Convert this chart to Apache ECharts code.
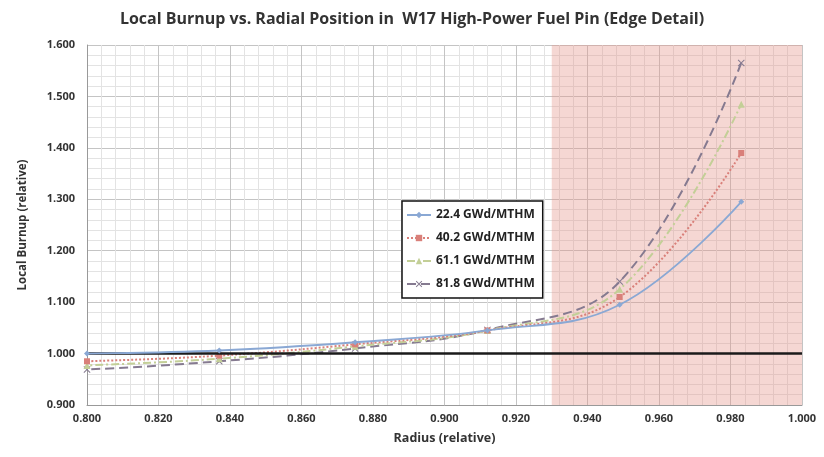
<!DOCTYPE html>
<html><head><meta charset="utf-8">
<script src="https://cdn.jsdelivr.net/npm/echarts@6/dist/echarts.min.js"></script>
<style>html,body{margin:0;padding:0;background:#fff}#c{width:824px;height:457px}</style>
</head><body><div id="c"></div>
<script>
const radius = [0.762, 0.800, 0.837, 0.875, 0.912, 0.949, 0.983];
const seriesNames = ['22.4 GWd/MTHM', '40.2 GWd/MTHM', '61.1 GWd/MTHM', '81.8 GWd/MTHM'];
const burnup22 = [0.998, 1.000, 1.006, 1.022, 1.045, 1.095, 1.295];
const burnup40 = [0.978, 0.985, 0.996, 1.018, 1.045, 1.110, 1.390];
const burnup61 = [0.968, 0.977, 0.990, 1.014, 1.045, 1.125, 1.485];
const burnup81 = [0.960, 0.969, 0.985, 1.010, 1.046, 1.140, 1.565];
const xTicks = {min: 0.8, max: 1.0, step: 0.02};
const yTicks = {min: 0.9, max: 1.6, step: 0.1};
const referenceLevel = 1.0;
const edgeZone = [0.930, 1.000];

const pairs = v => radius.map((r, i) => [r, v[i]]);
const xMark = 'path://M0,1 L1,0 L5,4 L9,0 L10,1 L6,5 L10,9 L9,10 L5,6 L1,10 L0,9 L4,5 Z';
const font = '"Open Sans", "Liberation Sans", sans-serif';

const chart = echarts.init(document.getElementById('c'));
chart.setOption({
  animation: false,
  textStyle: {fontFamily: font},
  title: {
    text: 'Local Burnup vs. Radial Position in  W17 High-Power Fuel Pin (Edge Detail)',
    left: 'center', top: 6,
    textStyle: {fontSize: 16, fontWeight: 'bold', color: '#333', fontFamily: font}
  },
  grid: {left: 87, right: 22, top: 45, bottom: 52},
  legend: {
    orient: 'vertical', left: 402, top: 201,
    backgroundColor: '#fff', borderColor: '#111', borderWidth: 1.5,
    padding: [8, 8, 8, 4], itemGap: 11, itemWidth: 24, itemHeight: 8,
    textStyle: {fontSize: 12, fontWeight: 'bold', color: '#222', fontFamily: font},
    data: seriesNames
  },
  xAxis: {
    type: 'value', min: xTicks.min, max: xTicks.max, interval: xTicks.step,
    name: 'Radius (relative)', nameLocation: 'middle', nameGap: 27,
    nameTextStyle: {fontSize: 12.5, fontWeight: 'bold', color: '#333'},
    axisLine: {lineStyle: {color: '#999'}},
    axisTick: {show: false},
    axisLabel: {fontSize: 11, fontWeight: 'bold', color: '#333', formatter: v => v.toFixed(3)},
    splitLine: {show: true, lineStyle: {color: '#c4c4c4', width: 1}},
    minorTick: {show: false, splitNumber: 5},
    minorSplitLine: {show: true, lineStyle: {color: '#e3e3e3', width: 1}}
  },
  yAxis: {
    type: 'value', min: yTicks.min, max: yTicks.max, interval: yTicks.step,
    name: 'Local Burnup (relative)', nameLocation: 'middle', nameGap: 58,
    nameTextStyle: {fontSize: 11.5, fontWeight: 'bold', color: '#333'},
    axisLine: {show: true, lineStyle: {color: '#999'}},
    axisTick: {show: false},
    axisLabel: {fontSize: 11, fontWeight: 'bold', color: '#333', margin: 12, formatter: v => v.toFixed(3)},
    splitLine: {show: true, lineStyle: {color: '#c4c4c4', width: 1}},
    minorTick: {show: false, splitNumber: 5},
    minorSplitLine: {show: true, lineStyle: {color: '#e3e3e3', width: 1}}
  },
  series: [
    {
      name: seriesNames[0], type: 'line', smooth: 0.4, clip: true, z: 5,
      data: pairs(burnup22), symbol: 'diamond', symbolSize: 6,
      lineStyle: {color: '#8aa8d4', width: 1.8},
      itemStyle: {color: '#8aa8d4'},
      markArea: {
        silent: true, itemStyle: {color: 'rgba(228,150,140,0.38)'},
        data: [[{xAxis: edgeZone[0]}, {xAxis: edgeZone[1]}]]
      },
      markLine: {
        silent: true, symbol: 'none', label: {show: false},
        lineStyle: {color: '#1a1a1a', width: 2.5, type: 'solid'},
        data: [{yAxis: referenceLevel}]
      }
    },
    {
      name: seriesNames[1], type: 'line', smooth: 0.4, clip: true, z: 4,
      data: pairs(burnup40), symbol: 'rect', symbolSize: 6,
      lineStyle: {color: '#d9807a', width: 2, type: [2, 2]},
      itemStyle: {color: '#d9807a'}
    },
    {
      name: seriesNames[2], type: 'line', smooth: 0.4, clip: true, z: 3,
      data: pairs(burnup61), symbol: 'triangle', symbolSize: 7,
      lineStyle: {color: '#c3cf97', width: 2, type: [8, 3, 2, 3]},
      itemStyle: {color: '#c3cf97'}
    },
    {
      name: seriesNames[3], type: 'line', smooth: 0.4, clip: true, z: 2,
      data: pairs(burnup81), symbol: xMark, symbolSize: 7,
      lineStyle: {color: '#857a90', width: 2, type: [9, 5]},
      itemStyle: {color: '#857a90'}
    }
  ]
});
</script></body></html>
